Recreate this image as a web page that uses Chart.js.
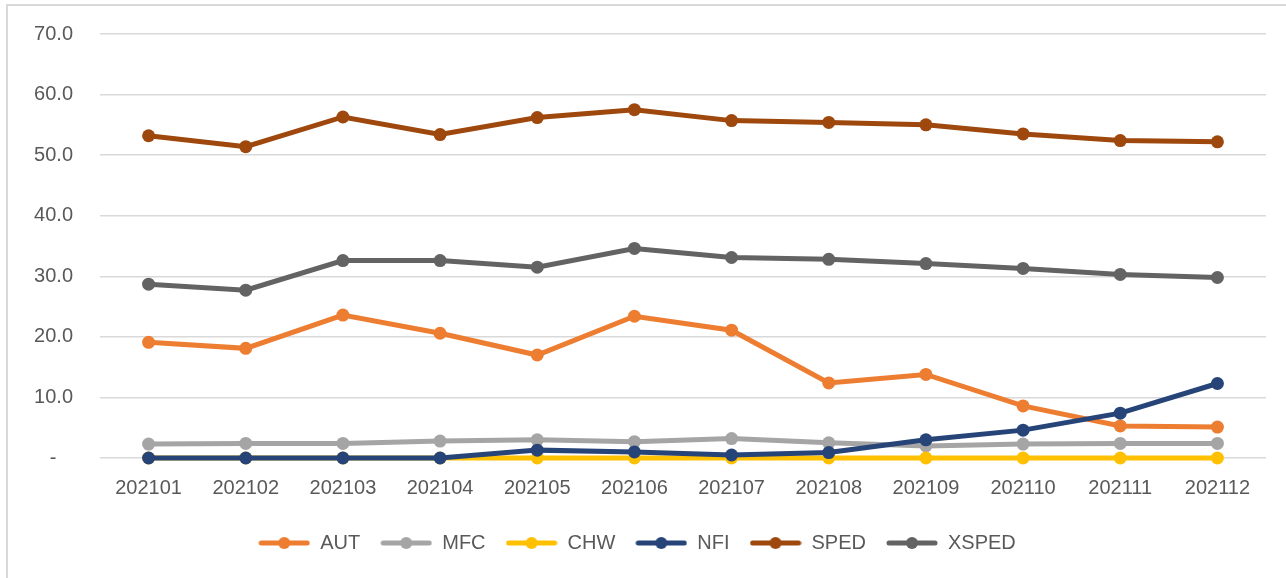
<!DOCTYPE html>
<html>
<head>
<meta charset="utf-8">
<script src="https://cdn.jsdelivr.net/npm/chart.js@4/dist/chart.umd.min.js"></script>
<style>
  html, body { margin: 0; padding: 0; background: #fff; }
  #frame {
    position: absolute; left: 6px; top: 4px; width: 1280px; height: 574px;
    border-left: 2px solid #d9d9d9; border-top: 2px solid #d9d9d9;
  }
  #wrap { position: absolute; left: 0; top: 0; width: 1278px; height: 572px; }
</style>
</head>
<body>
<div id="frame"><div id="wrap"><canvas id="chart"></canvas></div></div>
<script>
const months = ["202101", "202102", "202103", "202104", "202105", "202106",
  "202107", "202108", "202109", "202110", "202111", "202112"];

const aut = [19.1, 18.1, 23.6, 20.6, 17.0, 23.4, 21.1, 12.4, 13.8, 8.6, 5.3, 5.1];
const mfc = [2.3, 2.4, 2.4, 2.8, 3.0, 2.7, 3.2, 2.5, 2.0, 2.3, 2.4, 2.4];
const chw = [0, 0, 0, 0, 0, 0, 0, 0, 0, 0, 0, 0];
const nfi = [0, 0, 0, 0, 1.3, 1.0, 0.5, 0.9, 3.0, 4.6, 7.4, 12.3];
const sped = [53.2, 51.4, 56.3, 53.4, 56.2, 57.5, 55.7, 55.4, 55.0, 53.5, 52.4, 52.2];
const xsped = [28.7, 27.7, 32.6, 32.6, 31.5, 34.6, 33.1, 32.8, 32.1, 31.3, 30.3, 29.8];

const seriesNames = ["AUT", "MFC", "CHW", "NFI", "SPED", "XSPED"];
const seriesData = [aut, mfc, chw, nfi, sped, xsped];
const seriesColors = ["#ED7D31", "#A5A5A5", "#FFC000", "#264478", "#9E480E", "#636363"];

// little line-with-dot icon for the legend
function legendIcon(color) {
  const c = document.createElement("canvas");
  c.width = 52;
  c.height = 14;
  const g = c.getContext("2d");
  g.strokeStyle = color;
  g.lineWidth = 5;
  g.lineCap = "round";
  g.beginPath();
  g.moveTo(3, 7);
  g.lineTo(49, 7);
  g.stroke();
  g.fillStyle = color;
  g.beginPath();
  g.arc(26, 7, 6, 0, Math.PI * 2);
  g.fill();
  return c;
}

const datasets = seriesNames.map((name, i) => ({
  label: name,
  data: seriesData[i],
  borderColor: seriesColors[i],
  backgroundColor: seriesColors[i],
  borderWidth: 5,
  pointRadius: 6.5,
  pointHoverRadius: 6.5,
  pointBorderWidth: 0,
  tension: 0,
  clip: false,
  order: seriesNames.length - i
}));

const font = { family: "'Liberation Sans', Arial, sans-serif", size: 20 };

new Chart(document.getElementById("chart"), {
  type: "line",
  data: { labels: months, datasets: datasets },
  options: {
    responsive: true,
    maintainAspectRatio: false,
    animation: false,
    layout: { padding: { top: 28, right: 20, bottom: 15, left: 0 } },
    scales: {
      x: {
        offset: true,
        grid: { display: false },
        border: { display: false },
        ticks: { color: "#595959", font: font, padding: 10, maxRotation: 0 },
        afterFit: (scale) => { scale.height = 55; }
      },
      y: {
        min: 0,
        max: 70,
        grid: { color: "#d9d9d9", lineWidth: 1.5, drawTicks: false },
        border: { display: false },
        ticks: {
          stepSize: 10,
          color: "#595959",
          font: font,
          padding: 27,
          callback: (v) => (v === 0 ? "-   " : v.toFixed(1))
        },
        afterFit: (scale) => {
          scale.width = 92;
          scale.paddingTop = 0;
          scale.paddingBottom = 0;
        }
      }
    },
    plugins: {
      tooltip: { enabled: false },
      legend: {
        position: "bottom",
        labels: {
          color: "#595959",
          font: font,
          usePointStyle: true,
          pointStyleWidth: 52,
          padding: 20,
          generateLabels: (chart) => chart.data.datasets.map((ds, i) => ({
            text: ds.label,
            fillStyle: ds.borderColor,
            strokeStyle: ds.borderColor,
            lineWidth: 0,
            pointStyle: legendIcon(ds.borderColor),
            fontColor: "#595959",
            hidden: !chart.isDatasetVisible(i),
            datasetIndex: i
          }))
        }
      }
    }
  }
});
</script>
</body>
</html>
